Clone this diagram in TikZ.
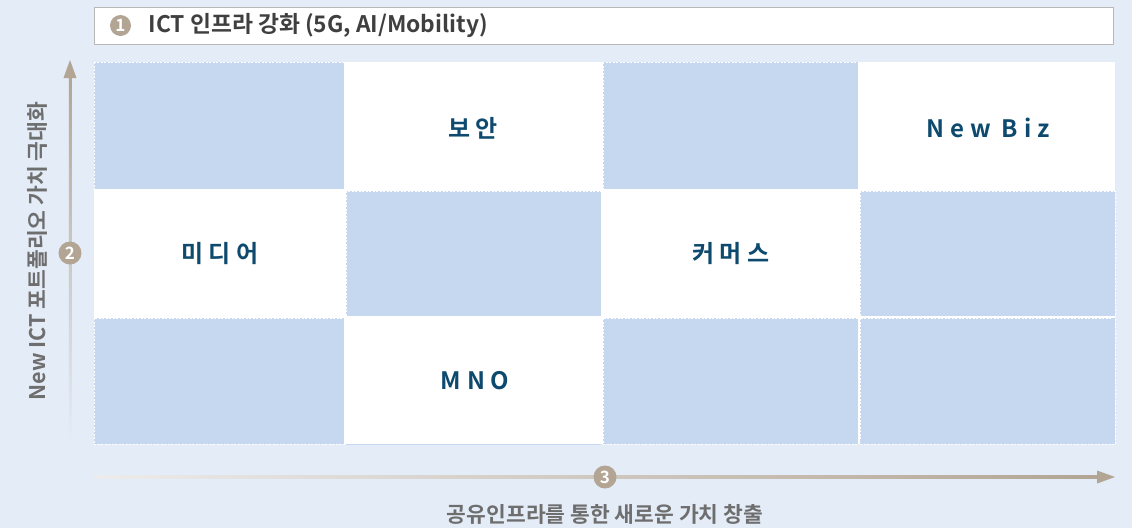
\documentclass[tikz,border=0pt]{standalone}
\usepackage{fontspec}
\setmainfont{Noto Sans CJK KR}[BoldFont={Noto Sans CJK KR Bold}]
\newfontfamily\cellfont{Noto Sans CJK KR Bold}[LetterSpace=24]
\usetikzlibrary{positioning}
\definecolor{bgblue}{HTML}{E4ECF7}
\definecolor{cellblue}{HTML}{C6D8EF}
\definecolor{taupe}{HTML}{B3A594}
\definecolor{navy}{HTML}{0E4A6E}
\definecolor{headtxt}{HTML}{3F3F3F}
\definecolor{axistxt}{HTML}{6E6E6E}
\definecolor{boxline}{HTML}{B8B8B8}
\begin{document}
\begin{tikzpicture}[x=1pt,y=-1pt,
  bluecell/.style={fill=cellblue,draw=white,line width=0.8pt,dash pattern=on 2pt off 1.5pt},
  celllabel/.style={font=\cellfont\fontsize{24}{28}\selectfont,text=navy},
  numcircle/.style={circle,fill=taupe,text=white,inner sep=0pt,minimum size=23pt,font=\bfseries\fontsize{17}{17}\selectfont},
  axislabel/.style={font=\bfseries\fontsize{21.5}{24}\selectfont,text=axistxt}]
\fill[bgblue] (0,0) rectangle (1132,528);
\useasboundingbox (0,0) rectangle (1132,528);
% header
\node[draw=boxline,fill=white,line width=0.8pt,minimum width=1019pt,minimum height=37pt,inner sep=0pt,anchor=north west] (header) at (94,7) {};
\node[numcircle,minimum size=21pt] (n1) at (120.5,25.5) {1};
\node[anchor=west,font=\bfseries\fontsize{22.8}{24}\selectfont,text=headtxt] (htext) at (145,25.5) {ICT 인프라 강화 (5G, AI/Mobility)};
% grid background
\fill[white] (94,62) rectangle (1115,444);
% row 1
\draw[bluecell] (94,62) rectangle (344,189);
\draw[bluecell] (603,62) rectangle (858,189);
% row 2
\draw[bluecell] (346,191) rectangle (601,316);
\draw[bluecell] (860,191) rectangle (1115,316);
% row 3
\draw[bluecell] (94,318) rectangle (344,444);
\draw[bluecell] (603,318) rectangle (858,444);
\draw[bluecell] (860,318) rectangle (1115,444);
\fill[cellblue] (860,440) rectangle (1115,444);
\fill[cellblue] (1111,318) rectangle (1115,444);
\draw[cellblue,line width=0.8pt] (346,444) -- (601,444);
% labels
\node[celllabel] (sec) at (473,128) {보안};
\node[celllabel] (nbiz) at (988,128) {New Biz};
\node[celllabel] (media) at (220,254) {미디어};
\node[celllabel] (comm) at (731,254) {커머스};
\node[celllabel] (mno) at (475,381) {MNO};
% vertical axis
\shade[bottom color=bgblue,top color=taupe] (68.8,440) rectangle (71.4,76);
\fill[taupe] (70,60) -- (76.5,78) -- (63.5,78) -- cycle;
\node[numcircle] (n2) at (70,253) {2};
\node[axislabel,rotate=90] (ylab) at (37,251) {New ICT 포트폴리오 가치 극대화};
% horizontal axis
\shade[left color=bgblue!60!taupe!40,right color=taupe] (94,475.7) rectangle (1098,478.3);
\fill[taupe] (1115,477) -- (1097,470.5) -- (1097,483.5) -- cycle;
\node[numcircle] (n3) at (605,477) {3};
\node[axislabel] (xlab) at (605,514) {공유인프라를 통한 새로운 가치 창출};
\end{tikzpicture}
\end{document}
